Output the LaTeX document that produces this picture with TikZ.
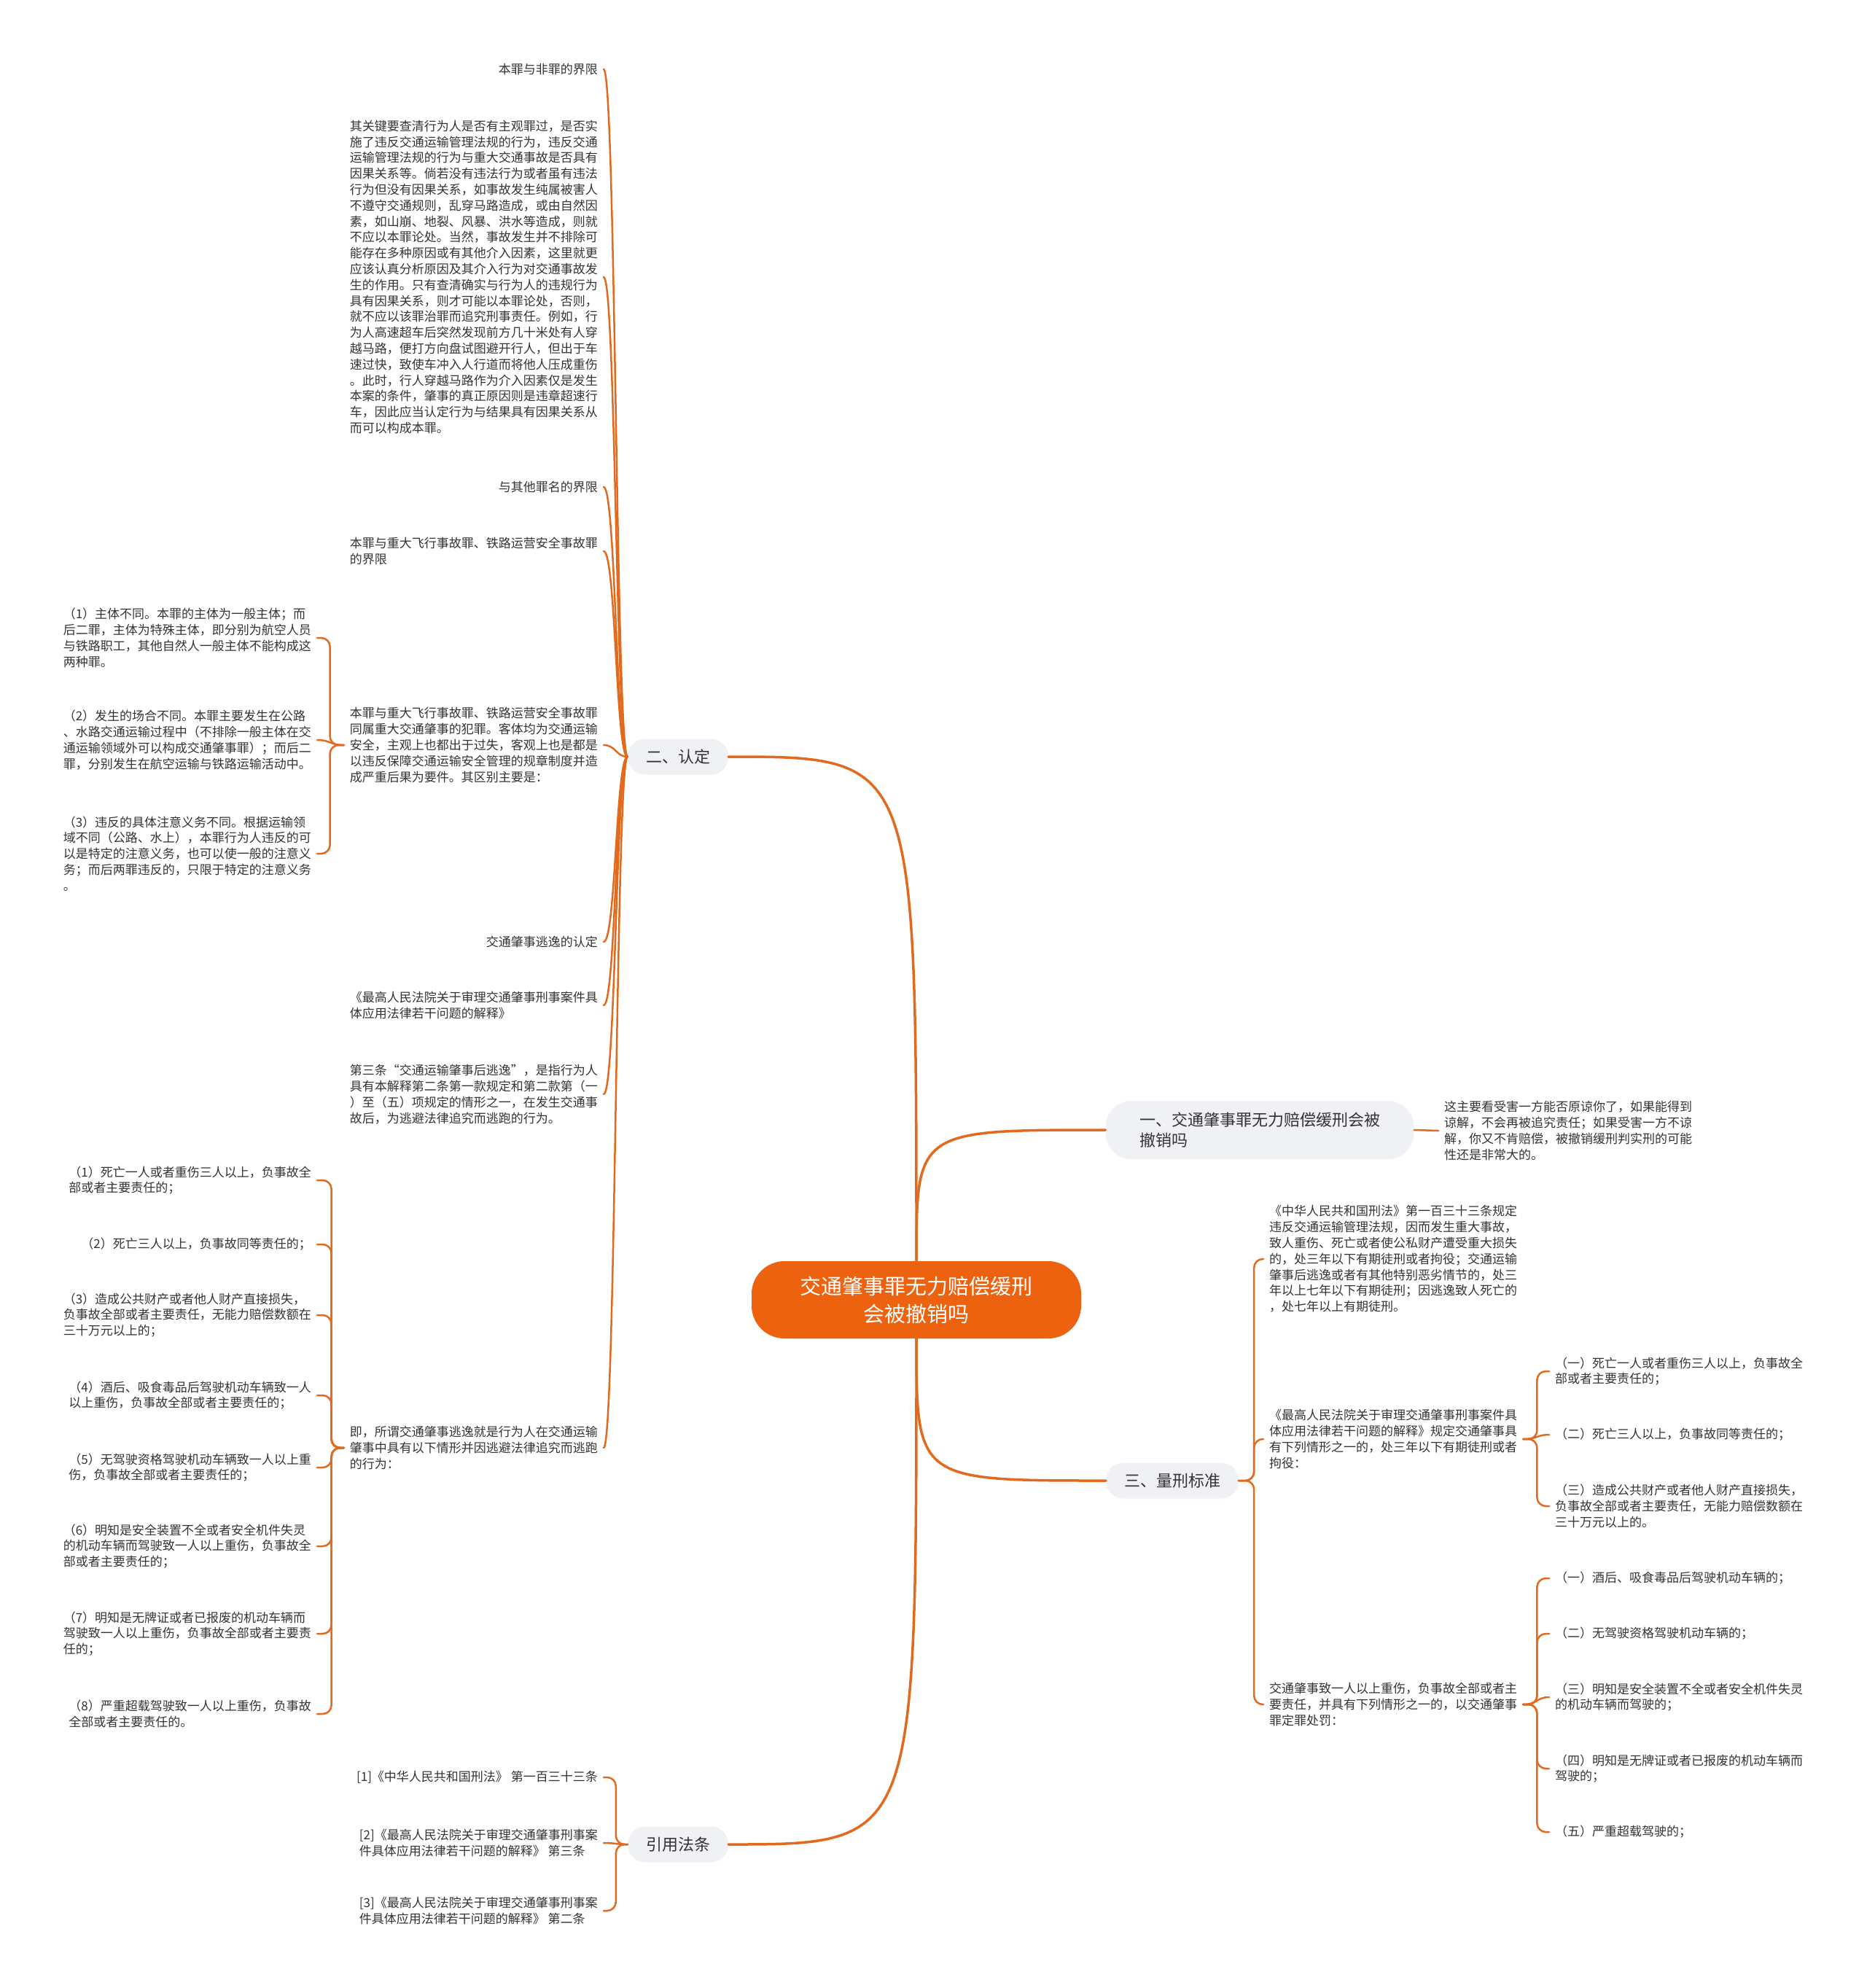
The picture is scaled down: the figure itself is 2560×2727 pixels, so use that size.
\documentclass[tikz,border=0pt]{standalone}
\usepackage{fontspec}
\setmainfont{Noto Sans CJK SC}
\usetikzlibrary{calc}
\definecolor{lc}{RGB}{226,106,30}
\definecolor{rootfill}{RGB}{236,98,14}
\definecolor{bfill}{RGB}{239,241,244}
\definecolor{txt}{RGB}{51,51,51}
\tikzset{
  leaf/.style={font=\fontsize{17pt}{21.8pt}\selectfont, text=txt, align=left, inner xsep=8pt, inner ysep=1pt},
  leafL/.style={leaf, anchor=east},
  leafR/.style={leaf, anchor=west},
  branch/.style={fill=bfill, text=txt, font=\fontsize{22pt}{28pt}\selectfont, rounded corners=24pt, minimum height=49pt, inner xsep=25pt},
  rootnode/.style={fill=rootfill, text=white, font=\fontsize{29pt}{38pt}\selectfont, rounded corners=45pt, minimum width=452pt, minimum height=106pt, align=center},
  mainlink/.style={draw=lc, line width=3.5pt, line cap=round},
  link/.style={draw=lc, line width=2.5pt, line cap=round},
  bracket/.style={link, rounded corners=12pt},
}
\begin{document}
\begin{tikzpicture}[x=1pt,y=-1pt]
\useasboundingbox (0,0) rectangle (2560,2727);
\fill[white] (0,0) rectangle (2560,2727);

% root and branches
\node[rootnode] (c) at (1257,1783) {交通肇事罪无力赔偿缓刑\\会被撤销吗};
\node[branch] (er) at (930,1038) {二、认定};
\node[branch] (yy) at (930,2530) {引用法条};
\node[branch, align=left, minimum width=423pt, minimum height=80pt, rounded corners=36pt] (one) at (1728,1550) {一、交通肇事罪无力赔偿缓刑会被\\撤销吗};
\node[branch] (san) at (1608,2031) {三、量刑标准};

% children of 二、认定
\node[leafL] (a1) at (828,95) {本罪与非罪的界限};
\node[leafL] (a2) at (828,380) {其关键要查清行为人是否有主观罪过，是否实\\施了违反交通运输管理法规的行为，违反交通\\运输管理法规的行为与重大交通事故是否具有\\因果关系等。倘若没有违法行为或者虽有违法\\行为但没有因果关系，如事故发生纯属被害人\\不遵守交通规则，乱穿马路造成，或由自然因\\素，如山崩、地裂、风暴、洪水等造成，则就\\不应以本罪论处。当然，事故发生并不排除可\\能存在多种原因或有其他介入因素，这里就更\\应该认真分析原因及其介入行为对交通事故发\\生的作用。只有查清确实与行为人的违规行为\\具有因果关系，则才可能以本罪论处，否则，\\就不应以该罪治罪而追究刑事责任。例如，行\\为人高速超车后突然发现前方几十米处有人穿\\越马路，便打方向盘试图避开行人，但出于车\\速过快，致使车冲入人行道而将他人压成重伤\\。此时，行人穿越马路作为介入因素仅是发生\\本案的条件，肇事的真正原因则是违章超速行\\车，因此应当认定行为与结果具有因果关系从\\而可以构成本罪。};
\node[leafL] (a3) at (828,668) {与其他罪名的界限};
\node[leafL] (a4) at (828,756) {本罪与重大飞行事故罪、铁路运营安全事故罪\\的界限};
\node[leafL] (a5) at (828,1022) {本罪与重大飞行事故罪、铁路运营安全事故罪\\同属重大交通肇事的犯罪。客体均为交通运输\\安全，主观上也都出于过失，客观上也是都是\\以违反保障交通运输安全管理的规章制度并造\\成严重后果为要件。其区别主要是：};
\node[leafL] (a6) at (828,1292) {交通肇事逃逸的认定};
\node[leafL] (a7) at (828,1379) {《最高人民法院关于审理交通肇事刑事案件具\\体应用法律若干问题的解释》};
\node[leafL] (a8) at (828,1501) {第三条“交通运输肇事后逃逸”，是指行为人\\具有本解释第二条第一款规定和第二款第（一\\）至（五）项规定的情形之一，在发生交通事\\故后，为逃避法律追究而逃跑的行为。};
\node[leafL] (a9) at (828,1986) {即，所谓交通肇事逃逸就是行为人在交通运输\\肇事中具有以下情形并因逃避法律追究而逃跑\\的行为：};

% children of a5
\node[leafL] (b1) at (435,875) {（1）主体不同。本罪的主体为一般主体；而\\后二罪，主体为特殊主体，即分别为航空人员\\与铁路职工，其他自然人一般主体不能构成这\\两种罪。};
\node[leafL] (b2) at (435,1015) {（2）发生的场合不同。本罪主要发生在公路\\、水路交通运输过程中（不排除一般主体在交\\通运输领域外可以构成交通肇事罪）；而后二\\罪，分别发生在航空运输与铁路运输活动中。};
\node[leafL] (b3) at (435,1171) {（3）违反的具体注意义务不同。根据运输领\\域不同（公路、水上），本罪行为人违反的可\\以是特定的注意义务，也可以使一般的注意义\\务；而后两罪违反的，只限于特定的注意义务\\。};

% children of a9
\node[leafL] (c1) at (435,1619) {（1）死亡一人或者重伤三人以上，负事故全\\部或者主要责任的；};
\node[leafL] (c2) at (435,1707) {（2）死亡三人以上，负事故同等责任的；};
\node[leafL] (c3) at (435,1804) {（3）造成公共财产或者他人财产直接损失，\\负事故全部或者主要责任，无能力赔偿数额在\\三十万元以上的；};
\node[leafL] (c4) at (435,1914) {（4）酒后、吸食毒品后驾驶机动车辆致一人\\以上重伤，负事故全部或者主要责任的；};
\node[leafL] (c5) at (435,2013) {（5）无驾驶资格驾驶机动车辆致一人以上重\\伤，负事故全部或者主要责任的；};
\node[leafL] (c6) at (435,2121) {（6）明知是安全装置不全或者安全机件失灵\\的机动车辆而驾驶致一人以上重伤，负事故全\\部或者主要责任的；};
\node[leafL] (c7) at (435,2241) {（7）明知是无牌证或者已报废的机动车辆而\\驾驶致一人以上重伤，负事故全部或者主要责\\任的；};
\node[leafL] (c8) at (435,2351) {（8）严重超载驾驶致一人以上重伤，负事故\\全部或者主要责任的。};

% children of 引用法条
\node[leafL] (r1) at (828,2438) {[1]《中华人民共和国刑法》 第一百三十三条};
\node[leafL] (r2) at (828,2528) {[2]《最高人民法院关于审理交通肇事刑事案\\件具体应用法律若干问题的解释》 第三条};
\node[leafL] (r3) at (828,2621) {[3]《最高人民法院关于审理交通肇事刑事案\\件具体应用法律若干问题的解释》 第二条};

% right side
\node[leafR] (ot) at (1973,1551) {这主要看受害一方能否原谅你了，如果能得到\\谅解，不会再被追究责任；如果受害一方不谅\\解，你又不肯赔偿，被撤销缓刑判实刑的可能\\性还是非常大的。};
\node[leafR] (d1) at (1733,1727) {《中华人民共和国刑法》第一百三十三条规定\\违反交通运输管理法规，因而发生重大事故，\\致人重伤、死亡或者使公私财产遭受重大损失\\的，处三年以下有期徒刑或者拘役；交通运输\\肇事后逃逸或者有其他特别恶劣情节的，处三\\年以上七年以下有期徒刑；因逃逸致人死亡的\\，处七年以上有期徒刑。};
\node[leafR] (d2) at (1733,1974) {《最高人民法院关于审理交通肇事刑事案件具\\体应用法律若干问题的解释》规定交通肇事具\\有下列情形之一的，处三年以下有期徒刑或者\\拘役：};
\node[leafR] (d3) at (1733,2338) {交通肇事致一人以上重伤，负事故全部或者主\\要责任，并具有下列情形之一的，以交通肇事\\罪定罪处罚：};
\node[leafR] (e1) at (2125,1881) {（一）死亡一人或者重伤三人以上，负事故全\\部或者主要责任的；};
\node[leafR] (e2) at (2125,1968) {（二）死亡三人以上，负事故同等责任的；};
\node[leafR] (e3) at (2125,2066) {（三）造成公共财产或者他人财产直接损失，\\负事故全部或者主要责任，无能力赔偿数额在\\三十万元以上的。};
\node[leafR] (f1) at (2125,2165) {（一）酒后、吸食毒品后驾驶机动车辆的；};
\node[leafR] (f2) at (2125,2241) {（二）无驾驶资格驾驶机动车辆的；};
\node[leafR] (f3) at (2125,2328) {（三）明知是安全装置不全或者安全机件失灵\\的机动车辆而驾驶的；};
\node[leafR] (f4) at (2125,2426) {（四）明知是无牌证或者已报废的机动车辆而\\驾驶的；};
\node[leafR] (f5) at (2125,2513) {（五）严重超载驾驶的；};

% main connectors
\draw[mainlink] (c.north) .. controls (c.north |- er.east) .. (er.east);
\draw[mainlink] (c.south) .. controls (c.south |- yy.east) .. (yy.east);
\draw[mainlink] (c.north) .. controls (c.north |- one.west) .. (one.west);
\draw[mainlink] (c.south) .. controls (c.south |- san.west) .. (san.west);

% spines
\coordinate (s2) at ($(er.west)+(-16,0)$);
\coordinate (sy) at ($(yy.west)+(-16,0)$);
\coordinate (sb) at ($(a5.west)+(-19,0)$);
\coordinate (sc) at ($(a9.west)+(-17,0)$);
\coordinate (sd) at ($(san.east)+(21,0)$);
\coordinate (se) at ($(d2.east)+(19,0)$);
\coordinate (sf) at ($(d3.east)+(19,0)$);

\foreach \n in {a1,a2,a3,a4,a5,a6,a7,a8,a9}
  \draw[link] (er.west) .. controls (s2) and (s2 |- \n.east) .. (\n.east);
% bracket-style groups
\foreach \n in {r1,r3}
  \draw[bracket] (yy.west) -- (sy) -- (sy |- \n.east) -- (\n.east);
\draw[link] (yy.west) .. controls (sy) and (sy |- r2.east) .. (r2.east);
\foreach \n in {b1,b3}
  \draw[bracket] (a5.west) -- (sb) -- (sb |- \n.east) -- (\n.east);
\draw[link] (a5.west) .. controls (sb) and (sb |- b2.east) .. (b2.east);
\foreach \n in {c1,c2,c3,c4,c5,c6,c7,c8}
  \draw[bracket] (a9.west) -- (sc) -- (sc |- \n.east) -- (\n.east);
\foreach \n in {d1,d2,d3}
  \draw[bracket] (san.east) -- (sd) -- (sd |- \n.west) -- (\n.west);
\foreach \n in {e1,e3}
  \draw[bracket] (d2.east) -- (se) -- (se |- \n.west) -- (\n.west);
\draw[link] (d2.east) .. controls (se) and (se |- e2.west) .. (e2.west);
\foreach \n in {f1,f2,f4,f5}
  \draw[bracket] (d3.east) -- (sf) -- (sf |- \n.west) -- (\n.west);
\draw[link] (d3.east) .. controls (sf) and (sf |- f3.west) .. (f3.west);
\draw[link] (one.east) -- (ot.west);
\end{tikzpicture}
\end{document}
